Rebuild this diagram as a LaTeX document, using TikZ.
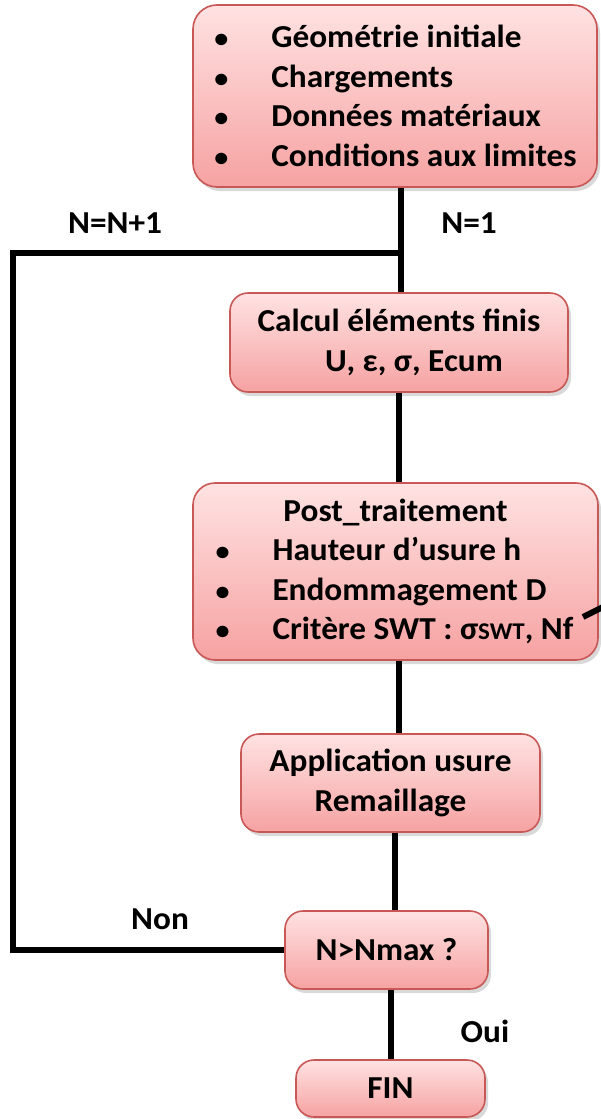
\documentclass[tikz,border=0pt]{standalone}
\usepackage{fontspec}
\setmainfont{Carlito}[FakeStretch=1.04]
\usetikzlibrary{shadows}
\definecolor{boxtop}{RGB}{255,226,226}
\definecolor{boxbot}{RGB}{246,162,162}
\definecolor{boxline}{RGB}{200,88,86}
\newcommand{\itm}[1]{\makebox[58pt][l]{\hspace*{1pt}\fontsize{27}{27}\selectfont\textbullet}#1}
\begin{document}
\begin{tikzpicture}[x=1pt,y=-1pt,
    font=\fontsize{32}{39.5}\selectfont\bfseries,
    box/.style={draw=boxline,line width=1.6pt,rounded corners=18pt,
      top color=boxtop,bottom color=boxbot,
      drop shadow={shadow xshift=3pt,shadow yshift=-4pt,opacity=.3}},
    link/.style={line width=6pt}]
    \useasboundingbox (0,0) rectangle (600,1119);
    \node[box,rounded corners=24pt,minimum width=404pt,minimum height=182pt,
      align=left] (init) at (395,96)
      {\itm{Géométrie initiale}\\ \itm{Chargements}\\
       \itm{Données matériaux}\\ \itm{Conditions aux limites}};
    \node[box,minimum width=338pt,minimum height=99pt,align=center] (fem) at (399,342.5)
      {Calcul éléments finis\\ \hspace*{30pt}U, ε, σ, Ecum};
    \node[box,rounded corners=22pt,minimum width=405pt,minimum height=177pt,
      align=left] (post) at (395.5,571.5)
      {\makebox[362pt]{Post\_traitement}\\ \itm{Hauteur d’usure h}\\
       \itm{Endommagement D}\\ \itm{Critère SWT : σ{\fontsize{24}{24}\selectfont SWT}, Nf}};
    \node[box,minimum width=299pt,minimum height=98pt,align=center] (wear) at (390.5,783)
      {Application usure\\ Remaillage};
    \node[box,minimum width=203pt,minimum height=78pt] (test) at (386.5,950) {N>Nmax ?};
    \node[box,minimum width=189pt,minimum height=57pt] (fin) at (390.5,1088.5) {FIN};
    \coordinate (junc) at (401,253);
    \coordinate (back) at (13,253);
    \coordinate (stub) at (583,617);
    \coordinate (offpage) at (625,596);
    \draw[link] (init.south -| junc) -- (junc) -- (junc |- fem.north);
    \draw[link] (test.west) -| (back) -- (junc);
    \draw[link] (fem.south) -- (fem.south |- post.north);
    \draw[link] ([xshift=3pt]post.south) -- ([xshift=3pt]post.south |- wear.north);
    \draw[link] ([xshift=4.5pt]wear.south) -- ([xshift=4.5pt]wear.south |- test.north);
    \draw[link] (fin.north |- test.south) -- (fin.north);
    \draw[link] (stub) -- (offpage);
    \node[anchor=base] (incr) at (115,233) {N=N+1};
    \node[anchor=base] (start) at (469,233) {N=1};
    \node[anchor=base] (no) at (160,929) {Non};
    \node[anchor=base] (yes) at (485,1042) {Oui};
\end{tikzpicture}
\end{document}
